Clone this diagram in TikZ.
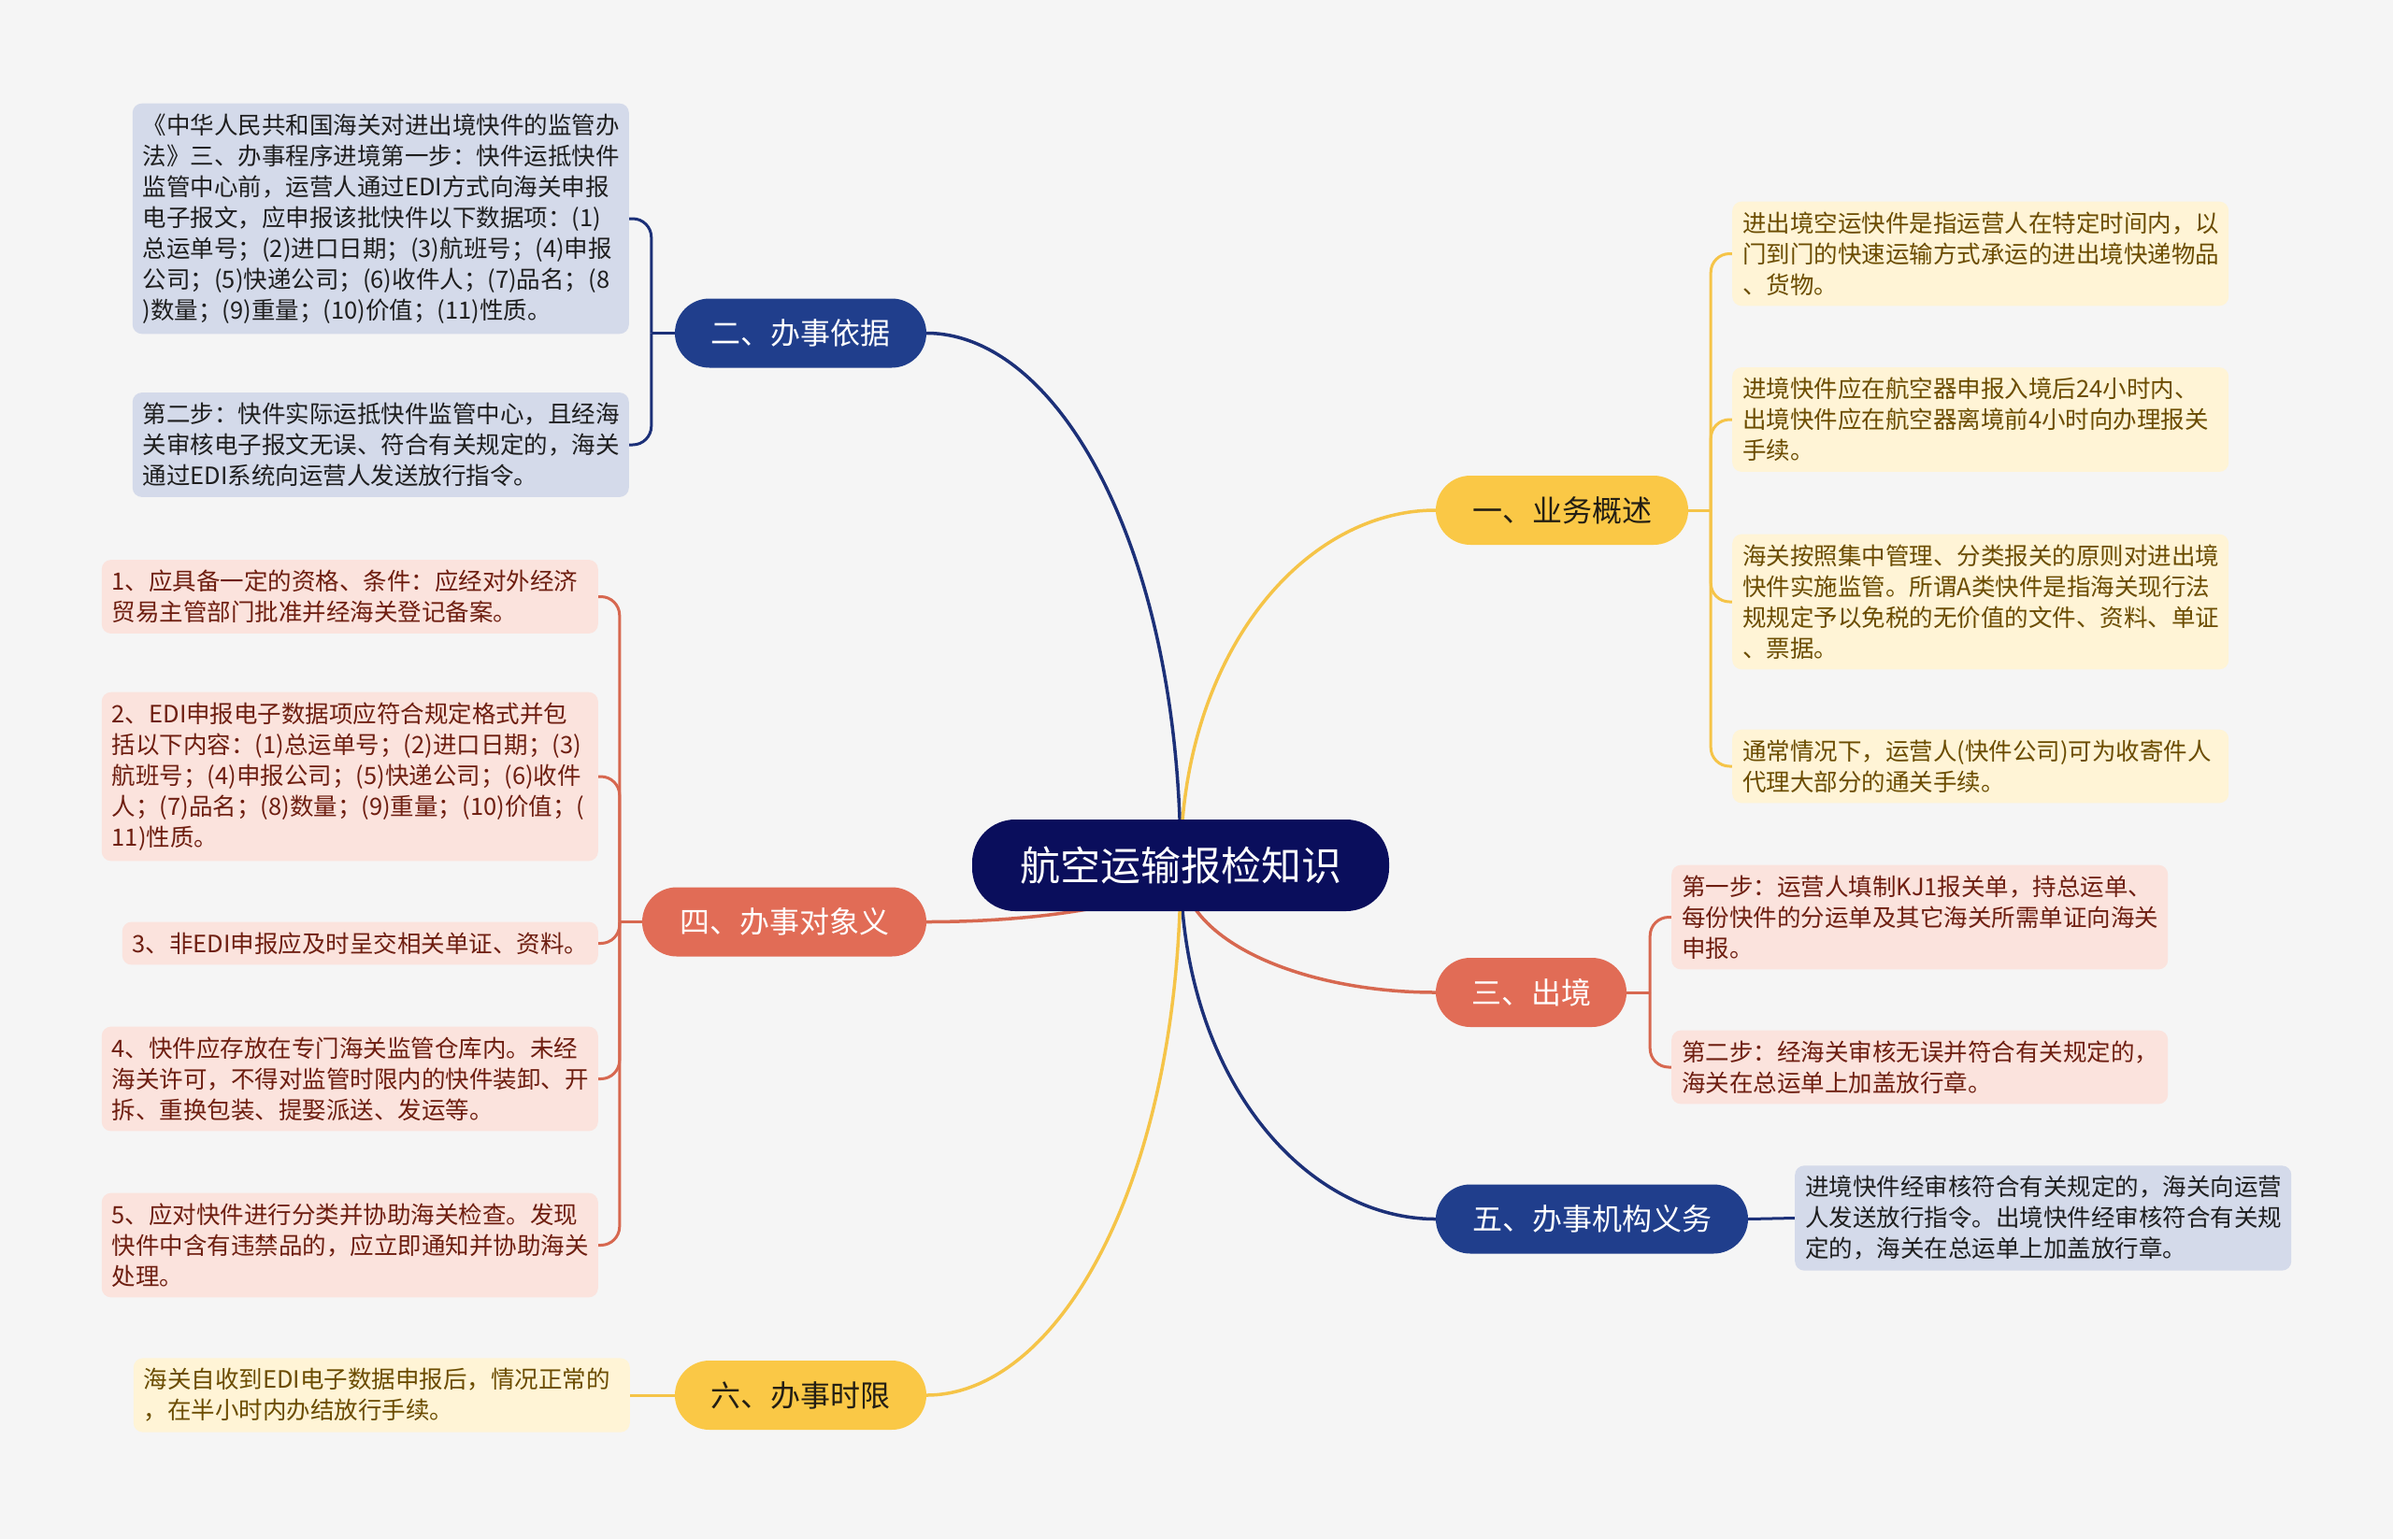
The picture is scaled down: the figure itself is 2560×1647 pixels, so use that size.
\documentclass[tikz,border=0pt]{standalone}
\usepackage{fontspec}
\setmainfont{Noto Sans CJK SC}
\usetikzlibrary{backgrounds}
\definecolor{bgc}{RGB}{245,245,245}
\definecolor{rootc}{RGB}{10,14,92}
\definecolor{bluec}{RGB}{32,62,140}
\definecolor{yelc}{RGB}{250,200,70}
\definecolor{corc}{RGB}{225,108,86}
\definecolor{lbluec}{RGB}{212,218,234}
\definecolor{lcorc}{RGB}{251,227,221}
\definecolor{lyelc}{RGB}{255,244,214}
\definecolor{tblue}{RGB}{30,30,30}
\definecolor{tcor}{RGB}{110,30,16}
\definecolor{tyel}{RGB}{107,76,0}
\definecolor{byt}{RGB}{35,30,20}
\definecolor{lnblue}{RGB}{28,48,120}
\definecolor{lnyel}{RGB}{245,196,72}
\definecolor{lncor}{RGB}{215,104,80}
\begin{document}
\begin{tikzpicture}[x=1pt,y=-1pt,
  rootbox/.style={fill=rootc, text=white, rounded corners=46pt, minimum height=98pt, minimum width=446pt, inner sep=0pt, font=\fontsize{43}{50}\selectfont},
  br/.style={rounded corners=37pt, minimum height=74pt, inner sep=0pt, font=\fontsize{32}{38}\selectfont},
  bblue/.style={br, fill=bluec, text=white},
  byel/.style={br, fill=yelc, text=byt},
  bcor/.style={br, fill=corc, text=white},
  leaf/.style={rounded corners=10pt, inner xsep=11pt, inner ysep=11pt, text width=509pt, align=left, font=\fontsize{25.5}{33}\selectfont},
  lblue/.style={leaf, fill=lbluec, text=tblue},
  lcor/.style={leaf, fill=lcorc, text=tcor},
  lyel/.style={leaf, fill=lyelc, text=tyel},
  rl/.style={line width=3.5pt},
  ll/.style={line width=3pt, rounded corners=20pt},
]
\begin{scope}[on background layer]
\fill[bgc] (0,0) rectangle (2560,1647);
\end{scope}
\useasboundingbox (0,0) rectangle (2560,1647);

% root
\node[rootbox] (root) at (1263,926) {航空运输报检知识};

% branches
\node[bblue, minimum width=269pt] (b2) at (856.5,356.5) {二、办事依据};
\node[byel, minimum width=270pt] (b1) at (1671,546) {一、业务概述};
\node[bcor, minimum width=304pt] (b4) at (839,986.5) {四、办事对象义};
\node[bcor, minimum width=204pt] (b3) at (1638,1062) {三、出境};
\node[bblue, minimum width=334pt] (b5) at (1703,1304.5) {五、办事机构义务};
\node[byel, minimum width=269pt] (b6) at (856.5,1493) {六、办事时限};

% leaves of 二
\node[lblue, anchor=east] (l1) at (673,234) {《中华人民共和国海关对进出境快件的监管办\\法》三、办事程序进境第一步：快件运抵快件\\监管中心前，运营人通过EDI方式向海关申报\\电子报文，应申报该批快件以下数据项：(1)\\总运单号；(2)进口日期；(3)航班号；(4)申报\\公司；(5)快递公司；(6)收件人；(7)品名；(8\\)数量；(9)重量；(10)价值；(11)性质。};
\node[lblue, anchor=east] (l2) at (673,476) {第二步：快件实际运抵快件监管中心，且经海\\关审核电子报文无误、符合有关规定的，海关\\通过EDI系统向运营人发送放行指令。};

% leaves of 四
\node[lcor, anchor=east] (c1) at (640,638.5) {1、应具备一定的资格、条件：应经对外经济\\贸易主管部门批准并经海关登记备案。};
\node[lcor, anchor=east] (c2) at (640,831) {2、EDI申报电子数据项应符合规定格式并包\\括以下内容：(1)总运单号；(2)进口日期；(3)\\航班号；(4)申报公司；(5)快递公司；(6)收件\\人；(7)品名；(8)数量；(9)重量；(10)价值；(\\11)性质。};
\node[lcor, anchor=east, text width=487pt] (c3) at (640,1009.5) {3、非EDI申报应及时呈交相关单证、资料。};
\node[lcor, anchor=east] (c4) at (640,1154.5) {4、快件应存放在专门海关监管仓库内。未经\\海关许可，不得对监管时限内的快件装卸、开\\拆、重换包装、提娶派送、发运等。};
\node[lcor, anchor=east] (c5) at (640,1332.5) {5、应对快件进行分类并协助海关检查。发现\\快件中含有违禁品的，应立即通知并协助海关\\处理。};

% leaf of 六
\node[lyel, anchor=east] (y1) at (674,1493) {海关自收到EDI电子数据申报后，情况正常的\\，在半小时内办结放行手续。};

% leaves of 一
\node[lyel, anchor=west] (r1) at (1853,271.5) {进出境空运快件是指运营人在特定时间内，以\\门到门的快速运输方式承运的进出境快递物品\\、货物。};
\node[lyel, anchor=west] (r2) at (1853,449) {进境快件应在航空器申报入境后24小时内、\\出境快件应在航空器离境前4小时向办理报关\\手续。};
\node[lyel, anchor=west] (r3) at (1853,644) {海关按照集中管理、分类报关的原则对进出境\\快件实施监管。所谓A类快件是指海关现行法\\规规定予以免税的无价值的文件、资料、单证\\、票据。};
\node[lyel, anchor=west] (r4) at (1853,820) {通常情况下，运营人(快件公司)可为收寄件人\\代理大部分的通关手续。};

% leaves of 三
\node[lcor, anchor=west] (s1) at (1788,981.5) {第一步：运营人填制KJ1报关单，持总运单、\\每份快件的分运单及其它海关所需单证向海关\\申报。};
\node[lcor, anchor=west] (s2) at (1788,1142) {第二步：经海关审核无误并符合有关规定的，\\海关在总运单上加盖放行章。};

% leaf of 五
\node[lblue, anchor=west] (f1) at (1920,1303.5) {进境快件经审核符合有关规定的，海关向运营\\人发送放行指令。出境快件经审核符合有关规\\定的，海关在总运单上加盖放行章。};

\begin{scope}[on background layer]
% root to branches
\draw[rl, lnblue] (root.center) .. controls +(0,-340) and +(140,0) .. (b2.east);
\draw[rl, lnyel] (root.center) .. controls +(0,-228) and +(-140,0) .. (b1.west);
\draw[rl, lncor] (root.center) .. controls +(0,36) and +(140,0) .. (b4.east);
\draw[rl, lncor] (root.center) .. controls +(0,82) and +(-140,0) .. (b3.west);
\draw[rl, lnblue] (root.center) .. controls +(0,227) and +(-140,0) .. (b5.west);
\draw[rl, lnyel] (root.center) .. controls +(0,340) and +(140,0) .. (b6.east);

% branch to leaves
\draw[ll, lnblue] (b2.west) -- ++(-25,0) coordinate (s2p);
\draw[ll, lnblue] (s2p) |- (l1.east);
\draw[ll, lnblue] (s2p) |- (l2.east);

\draw[ll, lncor] (b4.west) -- ++(-24,0) coordinate (s4p);
\draw[ll, lncor] (s4p) |- (c1.east);
\draw[ll, lncor] (s4p) |- (c2.east);
\draw[ll, lncor] (s4p) |- (c3.east);
\draw[ll, lncor] (s4p) |- (c4.east);
\draw[ll, lncor] (s4p) |- (c5.east);

\draw[ll, lnyel] (b6.west) -- (y1.east);

\draw[ll, lnyel] (b1.east) -- ++(24,0) coordinate (s1p);
\draw[ll, lnyel] (s1p) |- (r1.west);
\draw[ll, lnyel] (s1p) |- (r2.west);
\draw[ll, lnyel] (s1p) |- (r3.west);
\draw[ll, lnyel] (s1p) |- (r4.west);

\draw[ll, lncor] (b3.east) -- ++(25,0) coordinate (s3p);
\draw[ll, lncor] (s3p) |- (s1.west);
\draw[ll, lncor] (s3p) |- (s2.west);

\draw[ll, lnblue] (b5.east) -- (f1.west);
\end{scope}
\end{tikzpicture}
\end{document}
